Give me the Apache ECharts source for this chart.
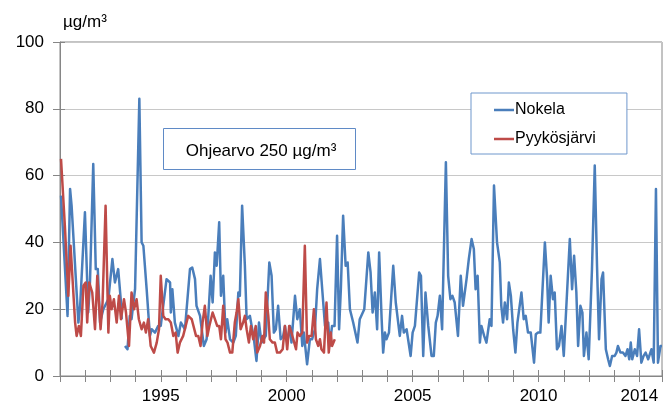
<!DOCTYPE html>
<html>
<head>
<meta charset="utf-8">
<script src="https://cdn.jsdelivr.net/npm/echarts@6/dist/echarts.min.js"></script>
<style>
  html, body { margin: 0; padding: 0; background: #fff; }
  #chart { width: 670px; height: 407px; }
</style>
</head>
<body>
<div id="chart"></div>
<script>
// Sampling dates (decimal years) and concentrations, µg/m³
const nokelaDates = [
  1991.04, 1991.30, 1991.40, 1991.46, 1991.73, 1991.80, 1991.99, 1992.12, 1992.19, 1992.32,
  1992.42, 1992.50, 1992.59, 1992.72, 1992.92, 1993.08, 1993.18, 1993.31, 1993.41, 1993.45,
  1993.52, 1993.58, 1993.68, 1993.77, 1993.84, 1993.98, 1994.15, 1994.24, 1994.31, 1994.44,
  1994.57, 1994.64, 1994.77, 1994.90, 1995.00, 1995.23, 1995.37, 1995.40, 1995.46, 1995.56,
  1995.70, 1995.80, 1995.96, 1996.16, 1996.25, 1996.36, 1996.42, 1996.56, 1996.71, 1996.82,
  1996.88, 1996.98, 1997.06, 1997.15, 1997.22, 1997.32, 1997.39, 1997.48, 1997.57, 1997.64,
  1997.75, 1997.88, 1997.98, 1998.08, 1998.14, 1998.23, 1998.34, 1998.41, 1998.54, 1998.60,
  1998.70, 1998.80, 1998.90, 1999.00, 1999.17, 1999.31, 1999.40, 1999.49, 1999.57, 1999.66,
  1999.76, 1999.86, 1999.93, 2000.02, 2000.13, 2000.19, 2000.33, 2000.42, 2000.52, 2000.62,
  2000.68, 2000.81, 2000.92, 2001.01, 2001.12, 2001.21, 2001.32, 2001.42, 2001.52, 2001.65,
  2001.71, 2001.80, 2001.90, 2002.00, 2002.08, 2002.15, 2002.24, 2002.34, 2002.42, 2002.51,
  2002.64, 2002.81, 2002.90, 2003.08, 2003.24, 2003.33, 2003.41, 2003.50, 2003.59, 2003.67,
  2003.77, 2003.83, 2003.90, 2003.96, 2004.06, 2004.23, 2004.33, 2004.49, 2004.58, 2004.65,
  2004.76, 2004.82, 2004.92, 2005.00, 2005.09, 2005.26, 2005.33, 2005.42, 2005.51, 2005.62,
  2005.75, 2005.84, 2005.92, 2005.99, 2006.08, 2006.17, 2006.32, 2006.41, 2006.50, 2006.58,
  2006.67, 2006.80, 2006.91, 2007.00, 2007.14, 2007.23, 2007.34, 2007.43, 2007.50, 2007.58,
  2007.67, 2007.73, 2007.84, 2007.93, 2008.00, 2008.06, 2008.13, 2008.23, 2008.35, 2008.46,
  2008.52, 2008.59, 2008.66, 2008.75, 2008.82, 2008.90, 2008.99, 2009.08, 2009.16, 2009.32,
  2009.41, 2009.49, 2009.58, 2009.69, 2009.76, 2009.82, 2009.89, 2009.98, 2010.07, 2010.25,
  2010.34, 2010.40, 2010.48, 2010.57, 2010.64, 2010.73, 2010.81, 2010.91, 2011.00, 2011.11,
  2011.24, 2011.33, 2011.41, 2011.50, 2011.57, 2011.66, 2011.74, 2011.80, 2011.90, 2011.99,
  2012.12, 2012.23, 2012.32, 2012.40, 2012.50, 2012.56, 2012.67, 2012.76, 2012.83, 2012.92,
  2013.02, 2013.09, 2013.15, 2013.25, 2013.35, 2013.45, 2013.53, 2013.60, 2013.66, 2013.72,
  2013.82, 2013.91, 2013.99, 2014.08, 2014.17, 2014.25, 2014.35, 2014.48, 2014.57, 2014.66,
  2014.74, 2014.84, 2014.90
];
const nokelaValues = [
  54, 18, 56, 51, 16, 21, 49, 19, 28, 63.5,
  32, 32, 16, 20, 23, 35, 28, 32, 23, 17,
  null, 9, 8, 18, 17, 26, 83, 40, 39, 26,
  12, 14, 13, 15, 15, 29, 28, 19, 26, 16,
  12, 16, 14, 32, 32.5, 29, 21, 18, 9, 11,
  17, 30, 22, 37, 33, 46, 24, 30, 13, 17,
  11, 10, 12, 25, 24, 51, 33, 17, 18, 18,
  11, 4.5, 16, 10, 12, 34, 30, 13, 14, 21,
  11, 12, 15, 10, 15, 10, 24, 17, 20, 9,
  13, 3.5, 11, 11, 14, 26, 35, 25, 15, 16,
  9, 15, 15, 42, 14, 26, 48, 33, 34, 20,
  16, 10, 17, 20, 37, 31, 19, 25, 14, 37,
  17, 7, 13, 11, 13, 33, 22, 12, 18, 13,
  14, 14, 6, 13, 15, 31, 30, 6, 25, 15,
  6, 6, 16, 18, 24, 14, 64, 30, 23, 24,
  22, 12, 30, 21, 29, 35, 41, 38, 26, 30,
  10, 15, 12, 10, 10, 17, 15, 57, 40, 34,
  21, 16, 22, 17, 28, 24, 14, 7, 16, 25,
  17, 18, 13, 13, 13, 4, 12.5, 13, 13, 40,
  29, 16, 30, 23, 25, 8, 9, 15, 6, 22,
  41, 26, 36, 25, 9, 21, 19, 6, 13, 5,
  32, 63, 33, 11, 29, 31, 8, 5, 3, 6,
  6, 7, 9, 7, 7, 6, 8, 5, 10, 5,
  8, 6, 14, 4, 6, 7, 5, 8, 4, 56,
  4, 9, 9
];

const pyykosDates = [
  1991.04, 1991.20, 1991.33, 1991.42, 1991.49, 1991.60, 1991.66, 1991.75, 1991.83, 1991.93,
  1992.02, 1992.08, 1992.16, 1992.28, 1992.39, 1992.48, 1992.61, 1992.69, 1992.81, 1992.92,
  1992.98, 1993.05, 1993.14, 1993.25, 1993.34, 1993.42, 1993.54, 1993.62, 1993.74, 1993.84,
  1993.94, 1994.04, 1994.13, 1994.24, 1994.33, 1994.41, 1994.50, 1994.60, 1994.73, 1994.84,
  1994.93, 1995.00, 1995.10, 1995.19, 1995.30, 1995.40, 1995.50, 1995.59, 1995.67, 1995.76,
  1995.89, 1996.09, 1996.23, 1996.40, 1996.49, 1996.58, 1996.66, 1996.75, 1996.85, 1996.93,
  1997.06, 1997.15, 1997.24, 1997.32, 1997.39, 1997.48, 1997.57, 1997.65, 1997.75, 1997.84,
  1997.94, 1998.01, 1998.08, 1998.17, 1998.27, 1998.34, 1998.41, 1998.50, 1998.58, 1998.67,
  1998.77, 1998.83, 1998.94, 1999.04, 1999.10, 1999.17, 1999.27, 1999.33, 1999.44, 1999.53,
  1999.62, 1999.73, 1999.84, 1999.93, 2000.02, 2000.10, 2000.19, 2000.26, 2000.37, 2000.43,
  2000.52, 2000.62, 2000.72, 2000.81, 2000.89, 2000.99, 2001.08, 2001.16, 2001.25, 2001.32,
  2001.38, 2001.48, 2001.58, 2001.67, 2001.75, 2001.80, 2001.91
];
const pyykosValues = [
  65, 44, 24, 39, 30, 16, 12, 15, 12, 27,
  28, 16, 28, 25, 14, 30, 14, 22, 51, 13,
  24, 20, 23, 16, 24, 17, 23, 19, 9, 25,
  20, 23, 17, 14, 16, 13, 17, 9, 7, 10,
  14, 30, 18, 17, 17, 16, 12, 13, 7, 10,
  12, 18, 17, 12, 12, 9, 16, 21, 12, 15,
  19, 17, 15, 15, 11, 21, 11, 10, 7, 7,
  16, 19, 23, 14, 16, 18, 14, 10, 15, 11,
  15, 7, 9, 12, 10, 25, 18, 11, 10, 10,
  7, 7, 8, 15, 8, 15, 13, 13, 8, 13,
  12, 13, 39, 10, 12, 12, 20, 11, 9, 11,
  8, 7, 22, 7, 13, 9, 11
];

// Years that carry a label on the time axis
const yearLabels = [1995, 2000, 2005, 2010, 2014];
const yTicks = { min: 0, max: 100, step: 20 };
const xRange = { min: 1991, max: 2014.9 };

const seriesNames = ['Nokela', 'Pyykösjärvi'];
const noteText = 'Ohjearvo 250 µg/m³';
const unitText = 'µg/m³';

const pair = (xs, ys) => xs.map((x, i) => [x, ys[i]]);

const axisGray = '#868686';
const labelFont = '"Liberation Sans", Arial, sans-serif';

const chart = echarts.init(document.getElementById('chart'), null, { renderer: 'canvas' });

const xLabel = v => {
  const r = Math.round(v);
  return (Math.abs(v - r) < 1e-6 && yearLabels.includes(r)) ? String(r) : '';
};

chart.setOption({
  animation: false,
  backgroundColor: '#ffffff',
  textStyle: { fontFamily: labelFont },
  title: {
    text: unitText,
    left: 58,
    top: 9,
    textStyle: { fontSize: 17, fontWeight: 'normal', color: '#000', fontFamily: labelFont }
  },
  grid: {
    left: 60, right: 8, top: 42, bottom: 31,
    show: true, borderColor: axisGray, borderWidth: 1, backgroundColor: 'transparent'
  },
  legend: {
    orient: 'vertical',
    left: 471, top: 93,
    padding: [9, 31, 7, 23],
    itemGap: 13,
    itemWidth: 20, itemHeight: 2.5,
    borderColor: '#6f97cc', borderWidth: 1, backgroundColor: '#fff',
    textStyle: { fontSize: 16, color: '#000', fontFamily: labelFont, padding: [0, 0, 0, -4] },
    data: seriesNames.map(n => ({ name: n, icon: 'rect' })),
    itemStyle: { borderWidth: 0 }
  },
  xAxis: [
    {
      type: 'value', min: xRange.min, max: xRange.max, interval: 1,
      axisLine: { lineStyle: { color: axisGray, width: 1 } },
      axisTick: { show: true, length: 6, lineStyle: { color: axisGray } },
      axisLabel: { formatter: xLabel, fontSize: 17, color: '#000', margin: 12, fontFamily: labelFont },
      splitLine: { show: false }
    },
    {
      type: 'value', min: xRange.min, max: xRange.max, interval: 1, position: 'bottom',
      axisLine: { show: false },
      axisTick: { show: true, inside: true, length: 6, lineStyle: { color: axisGray } },
      axisLabel: { show: false },
      splitLine: { show: false }
    }
  ],
  yAxis: [
    {
      type: 'value', min: yTicks.min, max: yTicks.max, interval: yTicks.step,
      axisLine: { show: true, lineStyle: { color: axisGray, width: 1 } },
      axisTick: { show: true, length: 7, lineStyle: { color: axisGray } },
      axisLabel: { fontSize: 17, color: '#000', margin: 16, fontFamily: labelFont },
      splitLine: { show: true, lineStyle: { color: '#c8c8c8', width: 1 } }
    },
    {
      type: 'value', min: yTicks.min, max: yTicks.max, interval: yTicks.step, position: 'left',
      axisLine: { show: false },
      axisTick: { show: true, inside: true, length: 5, lineStyle: { color: axisGray } },
      axisLabel: { show: false },
      splitLine: { show: false }
    }
  ],
  graphic: [
    {
      type: 'group',
      left: 163, top: 128,
      children: [
        {
          type: 'rect',
          shape: { x: 0.5, y: 0.5, width: 192, height: 41 },
          style: { fill: '#fff', stroke: '#5f8ac6', lineWidth: 1 }
        },
        {
          type: 'text',
          x: 98, y: 23,
          style: {
            text: noteText, fontSize: 17, fill: '#000', fontFamily: labelFont,
            align: 'center', verticalAlign: 'middle'
          }
        }
      ]
    }
  ],
  series: [
    {
      name: seriesNames[0], type: 'line', xAxisIndex: 0, yAxisIndex: 0,
      data: pair(nokelaDates, nokelaValues),
      symbol: 'none', connectNulls: false,
      itemStyle: { color: '#4a7ebb' },
      lineStyle: { color: '#4a7ebb', width: 2.5, join: 'round' },
      z: 2
    },
    {
      name: seriesNames[1], type: 'line', xAxisIndex: 0, yAxisIndex: 0,
      data: pair(pyykosDates, pyykosValues),
      symbol: 'none',
      itemStyle: { color: '#be4b48' },
      lineStyle: { color: '#be4b48', width: 2.5, join: 'round' },
      z: 3
    }
  ]
});
</script>
</body>
</html>
